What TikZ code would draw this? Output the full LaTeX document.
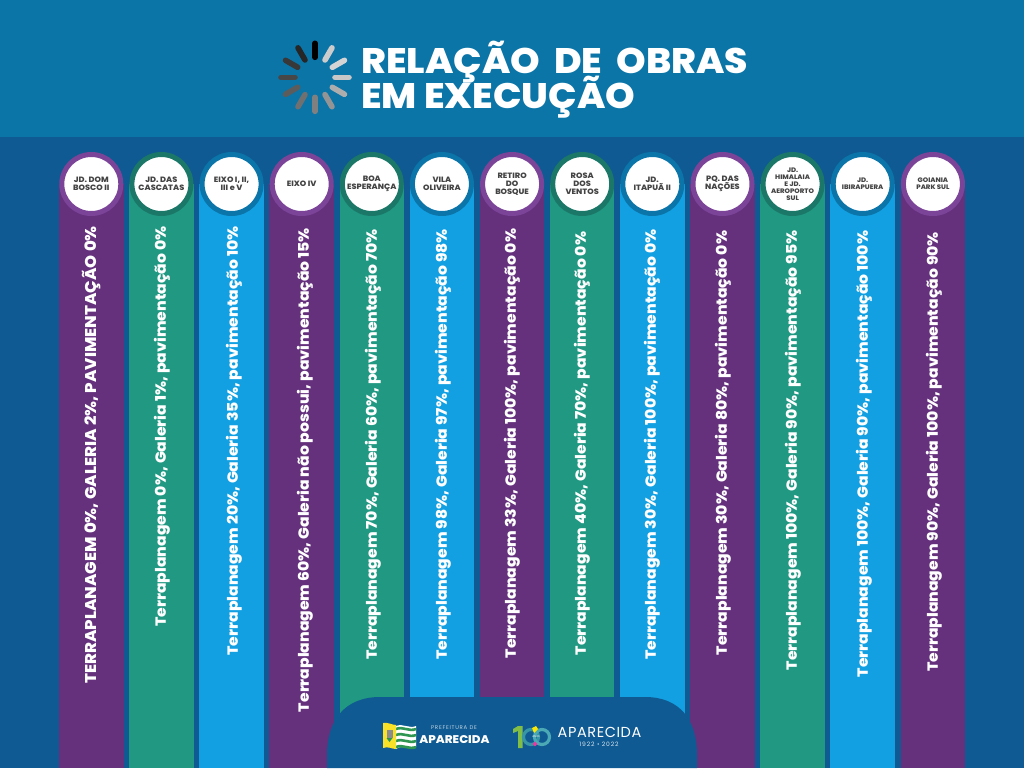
\documentclass[tikz,border=0pt]{standalone}
\usepackage{fontspec}
\usepackage{xcolor}
\setmainfont{Poppins}[BoldFont={Poppins ExtraBold},BoldFeatures={FakeStretch=1.06}]
\usetikzlibrary{positioning,shapes}
\lineskiplimit=-30pt
\definecolor{headblue}{RGB}{11,117,168}
\definecolor{bodyblue}{RGB}{15,90,146}
\definecolor{barpurple}{RGB}{101,49,125}
\definecolor{bargreen}{RGB}{32,152,130}
\definecolor{barblue}{RGB}{18,160,226}
\definecolor{ringpurple}{RGB}{124,68,152}
\definecolor{ringgreen}{RGB}{27,120,104}
\definecolor{ringblue}{RGB}{11,116,168}
\definecolor{labelgray}{RGB}{68,68,68}
\definecolor{flaggreen}{RGB}{46,150,80}
\definecolor{flagyellow}{RGB}{250,226,40}
\definecolor{cemgreen}{RGB}{130,190,70}
\definecolor{cemblue}{RGB}{55,150,165}
\definecolor{cemteal}{RGB}{74,169,181}

\begin{document}
\begin{tikzpicture}[x=1pt,y=-1pt,
	bar/.style = {rectangle, anchor=north, minimum width=64.5, minimum height=584, inner sep=0pt},
	ball/.style = {circle, draw, fill=white, line width=5, minimum size=59, inner sep=0pt, align=center, text=labelgray, font=\fontsize{7.7}{8}\selectfont\bfseries},
	smallball/.style = {ball, font=\fontsize{6.5}{7}\selectfont\bfseries},
	obra/.style = {rotate=90, inner sep=0pt, text=white, font=\fontsize{14.7}{15}\selectfont\bfseries},
	spoke/.style = {line width=5.6, line cap=round}]
	\useasboundingbox (0,0) rectangle (1024,768);
	\fill[bodyblue] (0,0) rectangle (1024,768);
	\fill[headblue] (0,0) rectangle (1024,137);

	% spinner
	\begin{scope}[shift={(315,77.3)}]
		\draw[spoke,draw=black!100] (-90:20) -- (-90:34);
		\draw[spoke,draw=black!20] (-60:20) -- (-60:34);
		\draw[spoke,draw=black!17] (-30:20) -- (-30:34);
		\draw[spoke,draw=black!22] (0:20) -- (0:34);
		\draw[spoke,draw=black!32] (30:20) -- (30:34);
		\draw[spoke,draw=black!42] (60:20) -- (60:34);
		\draw[spoke,draw=black!50] (90:20) -- (90:34);
		\draw[spoke,draw=black!56] (120:20) -- (120:34);
		\draw[spoke,draw=black!64] (150:20) -- (150:34);
		\draw[spoke,draw=black!72] (180:20) -- (180:34);
		\draw[spoke,draw=black!78] (210:20) -- (210:34);
		\draw[spoke,draw=black!85] (240:20) -- (240:34);
	\end{scope}
	\node[anchor=west, inner sep=0pt, text=white, align=left, font=\fontsize{35.5}{35}\selectfont\bfseries\addfontfeature{FakeStretch=1.15}] (title) at (361,80) {RELAÇÃO\hspace{7pt} DE\hspace{7pt} OBRAS\\EM EXECUÇÃO};

	% bars
	\node[bar,fill=barpurple] (c1) at (91.3,184) {};
	\node[bar,fill=bargreen] (c2) at (161.4,184) {};
	\node[bar,fill=barblue] (c3) at (231.6,184) {};
	\node[bar,fill=barpurple] (c4) at (301.7,184) {};
	\node[bar,fill=bargreen] (c5) at (371.8,184) {};
	\node[bar,fill=barblue] (c6) at (441.9,184) {};
	\node[bar,fill=barpurple] (c7) at (512.1,184) {};
	\node[bar,fill=bargreen] (c8) at (582.2,184) {};
	\node[bar,fill=barblue] (c9) at (652.3,184) {};
	\node[bar,fill=barpurple] (c10) at (722.5,184) {};
	\node[bar,fill=bargreen] (c11) at (792.6,184) {};
	\node[bar,fill=barblue] (c12) at (862.7,184) {};
	\node[bar,fill=barpurple] (c13) at (932.9,184) {};

	% balls
	\node[ball,draw=ringpurple] (b1) at (91.3,184) {JD. DOM\\BOSCO II};
	\node[ball,draw=ringgreen] (b2) at (161.4,184) {JD. DAS\\CASCATAS};
	\node[ball,draw=ringblue] (b3) at (231.6,184) {EIXO I, II,\\III e V};
	\node[ball,draw=ringpurple] (b4) at (301.7,184) {EIXO IV};
	\node[ball,draw=ringgreen] (b5) at (371.8,184) {BOA\\ESPERANÇA};
	\node[ball,draw=ringblue] (b6) at (441.9,184) {VILA\\OLIVEIRA};
	\node[ball,draw=ringpurple] (b7) at (512.1,184) {RETIRO\\DO\\BOSQUE};
	\node[ball,draw=ringgreen] (b8) at (582.2,184) {ROSA\\DOS\\VENTOS};
	\node[ball,draw=ringblue] (b9) at (652.3,184) {JD.\\ITAPUÃ II};
	\node[ball,draw=ringpurple] (b10) at (722.5,184) {PQ. DAS\\NAÇÕES};
	\node[smallball,draw=ringgreen] (b11) at (792.6,184) {JD.\\HIMALAIA\\E JD.\\AEROPORTO\\SUL};
	\node[smallball,draw=ringblue] (b12) at (862.7,184) {JD.\\IBIRAPUERA};
	\node[smallball,draw=ringpurple] (b13) at (932.9,184) {GOIANIA\\PARK SUL};

	% bar texts
	\node[obra,font=\fontsize{15.6}{16}\selectfont\bfseries] (t1) at (92,455) {TERRAPLANAGEM 0\%, GALERIA 2\%, PAVIMENTAÇÃO 0\%};
	\node[obra] (t2) at (162,426.5) {Terraplanagem 0\%, Galeria 1\%, pavimentação 0\%};
	\node[obra] (t3) at (234,441) {Terraplanagem 20\%, Galeria 35\%, pavimentação 10\%};
	\node[obra] (t4) at (305,470) {Terraplanagem 60\%, Galeria não possui, pavimentação 15\%};
	\node[obra] (t5) at (373,444.5) {Terraplanagem 70\%, Galeria 60\%, pavimentação 70\%};
	\node[obra] (t6) at (443,444.5) {Terraplanagem 98\%, Galeria 97\%, pavimentação 98\%};
	\node[obra] (t7) at (512,443.5) {Terraplanagem 33\%, Galeria 100\%, pavimentação 0\%};
	\node[obra] (t8) at (582,443.5) {Terraplanagem 40\%, Galeria 70\%, pavimentação 0\%};
	\node[obra] (t9) at (652,444.5) {Terraplanagem 30\%, Galeria 100\%, pavimentação 0\%};
	\node[obra] (t10) at (723,443) {Terraplanagem 30\%, Galeria 80\%, pavimentação 0\%};
	\node[obra] (t11) at (793,450.5) {Terraplanagem 100\%, Galeria 90\%, pavimentação 95\%};
	\node[obra] (t12) at (864,454) {Terraplanagem 100\%, Galeria 90\%, pavimentação 100\%};
	\node[obra] (t13) at (934,452) {Terraplanagem 90\%, Galeria 100\%, pavimentação 90\%};

	% bottom panel
	\fill[bodyblue] (327,768) -- (327,755) .. controls (327,720) and (345,697) .. (380,697) -- (645,697) .. controls (680,697) and (697,720) .. (697,755) -- (697,768) -- cycle;

	% prefeitura logo
	\fill[white] (396,726) .. controls (403,723) and (409,729) .. (416,726) -- (416,747) .. controls (409,750) and (403,744) .. (396,749) -- cycle;
	\draw[flaggreen,line width=2.6] (396,729) .. controls (403,726) and (409,732) .. (416,729);
	\draw[flaggreen,line width=2.6] (396,735) .. controls (403,732) and (409,738) .. (416,735);
	\draw[flaggreen,line width=2.6] (396,741) .. controls (403,738) and (409,744) .. (416,741);
	\draw[flaggreen,line width=2.6] (396,747) .. controls (403,744) and (409,750) .. (416,747);
	\fill[flagyellow] (383,723) .. controls (388,722) and (392,725) .. (396,725) -- (396,749) .. controls (392,749) and (388,746) .. (383,748) -- cycle;
	\fill[black!45] (386.5,730) rectangle (392.5,738);
	\fill[flaggreen] (386.5,738) -- (392.5,738) -- (389.5,742) -- cycle;
	\node[inner sep=0pt, text=white!75!bodyblue, font=\fontsize{5.4}{6}\selectfont] (pref) at (454,728) {\addfontfeature{LetterSpace=14}PREFEITURA DE};
	\node[inner sep=0pt, text=white, font=\fontsize{11.2}{12}\selectfont\bfseries] (apar) at (454.5,740) {APARECIDA};

	% cem anos logo
	\fill[cemgreen] (513,729) -- (518,726) -- (522.5,726) -- (522.5,748) -- (518,748) -- (518,731) -- (513,733) -- cycle;
	\node[circle, draw=cemblue, line width=3.2, minimum size=15, inner sep=0pt] (zeroa) at (531,737) {};
	\node[circle, draw=cemteal, line width=3.2, minimum size=15, inner sep=0pt] (zerob) at (542,737) {};
	\fill[yellow!90!orange] (532,728) -- (536,726) -- (538,729) -- (534,733) -- cycle;
	\node[diamond, fill=magenta!80!white, minimum size=5, inner sep=0pt] (gem) at (535,744) {};
	\node[inner sep=0pt, text=white, font=\fontsize{2.6}{3}\selectfont] (anos) at (536,737) {ANOS};
	\node[inner sep=0pt, text=white, font=\fontsize{14.5}{15}\selectfont] (apar2) at (599.5,732.5) {\addfontfeature{LetterSpace=4}APARECIDA};
	\node[inner sep=0pt, text=white!85!bodyblue, font=\fontsize{6}{6}\selectfont] (anos2) at (599,744.5) {\addfontfeature{LetterSpace=14}1922 • 2022};
\end{tikzpicture}
\end{document}
